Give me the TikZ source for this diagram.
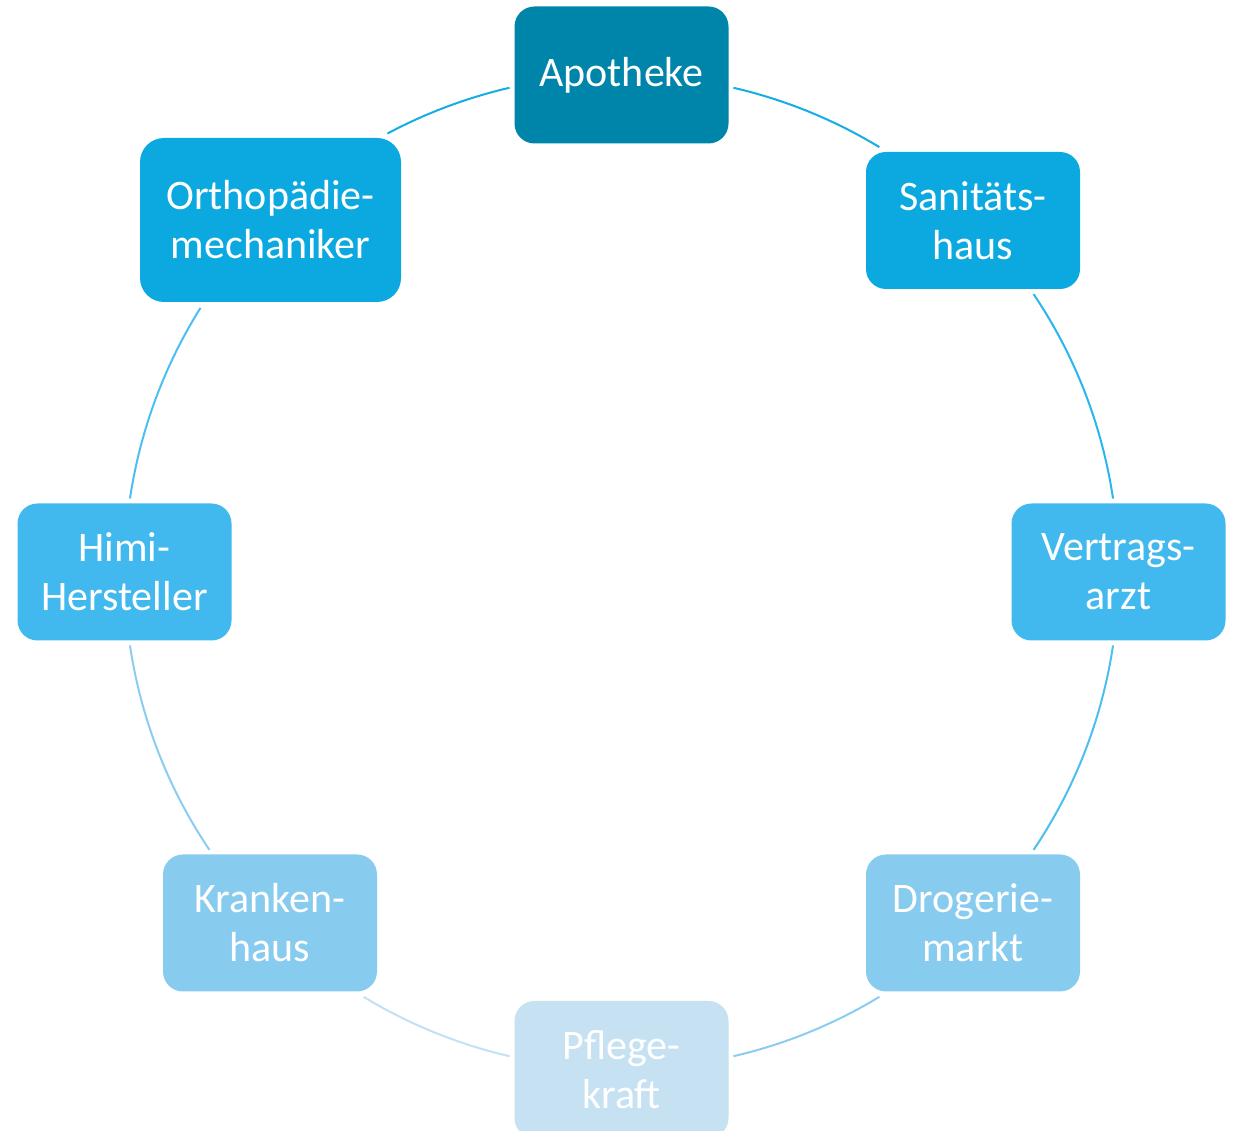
\documentclass[tikz,border=0pt]{standalone}
\usepackage{fontspec}
\setmainfont{Carlito}
\usetikzlibrary{calc}

% box fills, from dark to light
\definecolor{cApo}{HTML}{0085AA}
\definecolor{cSan}{HTML}{0BA9E0}
\definecolor{cVer}{HTML}{42B9EE}
\definecolor{cDro}{HTML}{87CBEF}
\definecolor{cPfl}{HTML}{C5E1F2}
% ring segment colours
\definecolor{aOne}{HTML}{14ADE4}
\definecolor{aTwo}{HTML}{28B6EE}
\definecolor{aThree}{HTML}{4CBFF2}
\definecolor{aFour}{HTML}{8ACDF0}
\definecolor{aFive}{HTML}{C2E1F3}

\def\R{372.75pt}

\begin{document}
\begin{tikzpicture}[x=0.75pt,y=0.75pt,
  box/.style={rounded corners=15pt, minimum width=160.5pt, minimum height=102.75pt,
    inner sep=0pt, align=center, text=white,
    font=\fontsize{31.5}{36.75}\selectfont},
  link/.style={line width=1.5pt}]
\useasboundingbox (0,0) rectangle (1235,1131);

\coordinate (C) at (621.5,559);

% ring segments between the boxes
\coordinate (apo-r) at ($(C)+(76.98:\R)$);
\coordinate (san-r) at ($(C)+(34.0:\R)$);
\coordinate (ver-r) at ($(C)+(-8.5:\R)$);
\coordinate (dro-r) at ($(C)+(-58.75:\R)$);
\coordinate (pfl-r) at ($(C)+(-103.02:\R)$);
\coordinate (kra-r) at ($(C)+(-146.0:\R)$);
\coordinate (him-r) at ($(C)+(171.5:\R)$);
\coordinate (ort-r) at ($(C)+(118.1:\R)$);

\draw[link, aOne]   (apo-r) arc[start angle=76.98,   end angle=58.75,   radius=\R];
\draw[link, aTwo]   (san-r) arc[start angle=34.0,    end angle=8.5,     radius=\R];
\draw[link, aThree] (ver-r) arc[start angle=-8.5,    end angle=-34.0,   radius=\R];
\draw[link, aFour]  (dro-r) arc[start angle=-58.75,  end angle=-76.98,  radius=\R];
\draw[link, aFive]  (pfl-r) arc[start angle=-103.02, end angle=-121.25, radius=\R];
\draw[link, aFour]  (kra-r) arc[start angle=-146.0,  end angle=-171.5,  radius=\R];
\draw[link, aThree] (him-r) arc[start angle=171.5,   end angle=147.9,   radius=\R];
\draw[link, aOne]   (ort-r) arc[start angle=118.1,   end angle=103.02,  radius=\R];

% the eight boxes
\node[box, fill=cApo] (apo) at (621.5,1056) {Apotheke};
\node[box, fill=cSan] (san) at (973,910.5) {Sanitäts-\\haus};
\node[box, fill=cVer] (ver) at (1118.5,559) {Vertrags-\\arzt};
\node[box, fill=cDro] (dro) at (973,208) {Drogerie-\\markt};
\node[box, fill=cPfl] (pfl) at (621.5,61.5) {Pflege-\\kraft};
\node[box, fill=cDro] (kra) at (270,208) {Kranken-\\haus};
\node[box, fill=cVer] (him) at (124.5,559) {Himi-\\Hersteller};
\node[box, fill=cSan, minimum width=195.75pt, minimum height=123pt,
      rounded corners=18pt] (ort) at (270.5,911) {Orthopädie-\\mechaniker};
\end{tikzpicture}
\end{document}
